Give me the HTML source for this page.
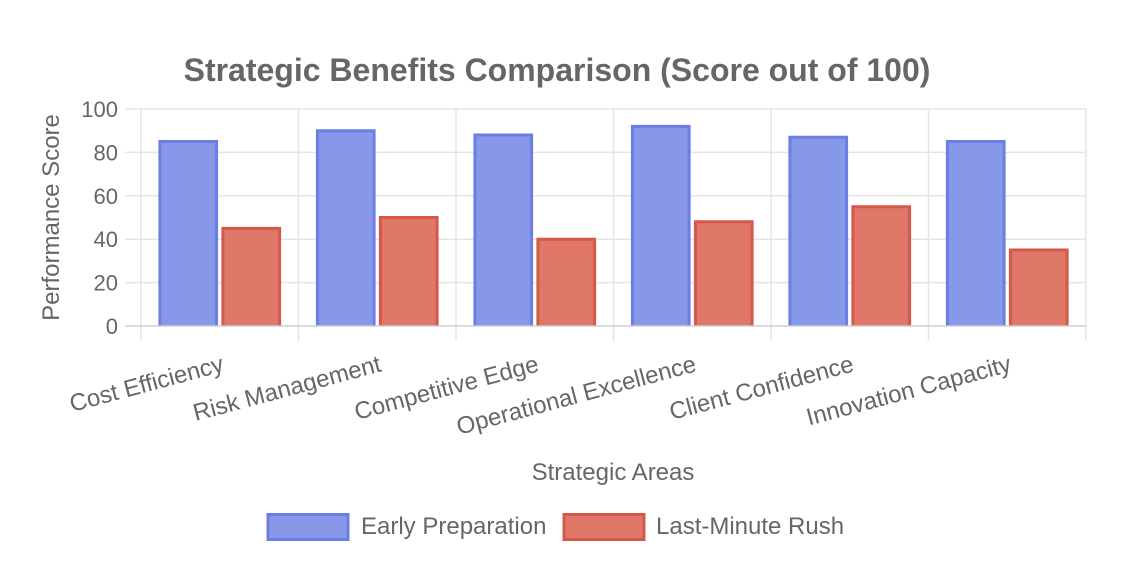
<!DOCTYPE html>
<html>
<head>
<meta charset="utf-8">
<style>
  html, body { margin: 0; padding: 0; background: #ffffff; }
  svg { display: block; }
  text { font-family: "Liberation Sans", Arial, Helvetica, sans-serif; fill: #666666; }
</style>
</head>
<body>
<svg width="1130" height="570" viewBox="0 0 1130 570" xmlns="http://www.w3.org/2000/svg">
  <rect x="0" y="0" width="1130" height="570" fill="#ffffff"/>

  <!-- Title -->
  <text x="557" y="81" font-size="32" font-weight="bold" text-anchor="middle">Strategic Benefits Comparison (Score out of 100)</text>

  <!-- Horizontal grid lines -->
  <g stroke="#e5e5e5" stroke-width="1.5">
    <line x1="125" y1="109" x2="1086" y2="109"/>
    <line x1="125" y1="152.4" x2="1086" y2="152.4"/>
    <line x1="125" y1="195.8" x2="1086" y2="195.8"/>
    <line x1="125" y1="239.2" x2="1086" y2="239.2"/>
    <line x1="125" y1="282.6" x2="1086" y2="282.6"/>
  </g>
  <!-- Vertical grid lines -->
  <g stroke="#e5e5e5" stroke-width="1.5">
    <line x1="141" y1="109" x2="141" y2="341"/>
    <line x1="298.5" y1="109" x2="298.5" y2="341"/>
    <line x1="456" y1="109" x2="456" y2="341"/>
    <line x1="613.5" y1="109" x2="613.5" y2="341"/>
    <line x1="771" y1="109" x2="771" y2="341"/>
    <line x1="928.5" y1="109" x2="928.5" y2="341"/>
    <line x1="1086" y1="109" x2="1086" y2="341"/>
  </g>

  <!-- Bars -->
  <g>
    <rect x="159.9" y="141.5" width="56.7" height="184.5" fill="#8898e8"/>
    <path d="M159.9 326 V141.5 H216.6 V326" fill="none" stroke="#6a7ee3" stroke-width="3"/>
    <rect x="222.9" y="228.4" width="56.7" height="97.6" fill="#e0786a"/>
    <path d="M222.9 326 V228.4 H279.6 V326" fill="none" stroke="#d6584a" stroke-width="3"/>

    <rect x="317.4" y="130.7" width="56.7" height="195.3" fill="#8898e8"/>
    <path d="M317.4 326 V130.7 H374.1 V326" fill="none" stroke="#6a7ee3" stroke-width="3"/>
    <rect x="380.4" y="217.5" width="56.7" height="108.5" fill="#e0786a"/>
    <path d="M380.4 326 V217.5 H437.1 V326" fill="none" stroke="#d6584a" stroke-width="3"/>

    <rect x="474.9" y="135.0" width="56.7" height="191.0" fill="#8898e8"/>
    <path d="M474.9 326 V135.0 H531.6 V326" fill="none" stroke="#6a7ee3" stroke-width="3"/>
    <rect x="537.9" y="239.2" width="56.7" height="86.8" fill="#e0786a"/>
    <path d="M537.9 326 V239.2 H594.6 V326" fill="none" stroke="#d6584a" stroke-width="3"/>

    <rect x="632.4" y="126.4" width="56.7" height="199.6" fill="#8898e8"/>
    <path d="M632.4 326 V126.4 H689.1 V326" fill="none" stroke="#6a7ee3" stroke-width="3"/>
    <rect x="695.4" y="221.8" width="56.7" height="104.2" fill="#e0786a"/>
    <path d="M695.4 326 V221.8 H752.1 V326" fill="none" stroke="#d6584a" stroke-width="3"/>

    <rect x="789.9" y="137.2" width="56.7" height="188.8" fill="#8898e8"/>
    <path d="M789.9 326 V137.2 H846.6 V326" fill="none" stroke="#6a7ee3" stroke-width="3"/>
    <rect x="852.9" y="206.7" width="56.7" height="119.3" fill="#e0786a"/>
    <path d="M852.9 326 V206.7 H909.6 V326" fill="none" stroke="#d6584a" stroke-width="3"/>

    <rect x="947.4" y="141.5" width="56.7" height="184.5" fill="#8898e8"/>
    <path d="M947.4 326 V141.5 H1004.1 V326" fill="none" stroke="#6a7ee3" stroke-width="3"/>
    <rect x="1010.4" y="250.0" width="56.7" height="76.0" fill="#e0786a"/>
    <path d="M1010.4 326 V250.0 H1067.1 V326" fill="none" stroke="#d6584a" stroke-width="3"/>
  </g>

  <!-- Bottom axis line -->
  <line x1="125" y1="326" x2="1086" y2="326" stroke="#cfcfcf" stroke-width="1.5"/>

  <!-- Y tick labels -->
  <g font-size="22" text-anchor="end">
    <text x="118" y="117">100</text>
    <text x="118" y="160.4">80</text>
    <text x="118" y="203.8">60</text>
    <text x="118" y="247.2">40</text>
    <text x="118" y="290.6">20</text>
    <text x="118" y="334">0</text>
  </g>

  <!-- Y axis title -->
  <text transform="translate(59,217.5) rotate(-90)" font-size="24" text-anchor="middle">Performance Score</text>

  <!-- X tick labels (rotated) -->
  <g font-size="24" text-anchor="end">
    <text transform="translate(225,371) rotate(-15)">Cost Efficiency</text>
    <text transform="translate(382.5,371) rotate(-15)">Risk Management</text>
    <text transform="translate(540,371) rotate(-15)">Competitive Edge</text>
    <text transform="translate(697.5,371) rotate(-15)">Operational Excellence</text>
    <text transform="translate(855,371) rotate(-15)">Client Confidence</text>
    <text transform="translate(1012.5,371) rotate(-15)">Innovation Capacity</text>
  </g>

  <!-- X axis title -->
  <text x="613" y="480" font-size="24" text-anchor="middle">Strategic Areas</text>

  <!-- Legend -->
  <rect x="268" y="514.5" width="80" height="25" fill="#8898e8" stroke="#6a7ee3" stroke-width="3"/>
  <text x="361" y="534" font-size="24">Early Preparation</text>
  <rect x="564" y="514.5" width="80" height="25" fill="#e0786a" stroke="#d6584a" stroke-width="3"/>
  <text x="656" y="534" font-size="24">Last-Minute Rush</text>
</svg>
</body>
</html>
